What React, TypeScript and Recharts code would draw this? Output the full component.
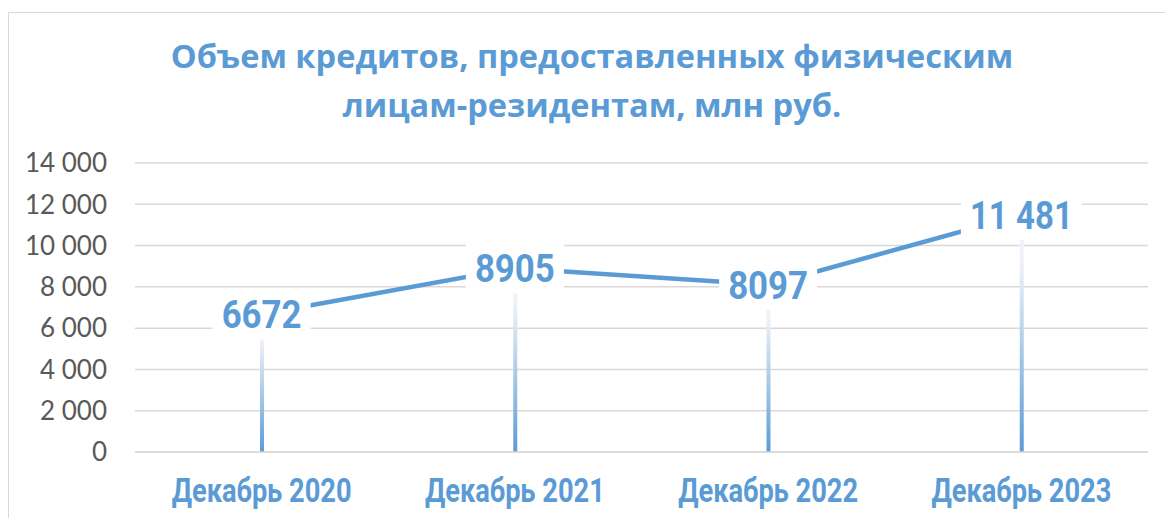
import React from 'react';
import { ComposedChart, Line, Bar, XAxis, YAxis, CartesianGrid, LabelList } from 'recharts';

const categories = ['Декабрь 2020', 'Декабрь 2021', 'Декабрь 2022', 'Декабрь 2023'];
const values = [6672, 8905, 8097, 11481];
const valueLabels = ['6672', '8905', '8097', '11 481'];
const yTicks = [0, 2000, 4000, 6000, 8000, 10000, 12000, 14000];

const BLUE = '#5B9BD5';
const GRID = '#d9d9d9';
const COND = "'Roboto', sans-serif";

const chartData = categories.map((name, i) => ({
  name,
  value: values[i],
  label: valueLabels[i],
}));

const fmtTick = (v: number) => String(v).replace(/\B(?=(\d{3})+(?!\d))/g, ' ');

// the original uses a condensed face; squeeze Roboto to the same width
const ValueLabel = (props: any) => {
  const { x, y, value } = props;
  const text = String(value);
  const digits = text.replace(/\s/g, '').length;
  const spaces = text.length - digits;
  const tw = digits * 20 + spaces * 3;
  const w = tw + 18;
  const h = 50;
  return (
    <g>
      <rect x={x - w / 2} y={y - h / 2} width={w} height={h} fill="#ffffff" />
      <text
        x={x - tw / 2}
        y={y + 14}
        textLength={tw}
        lengthAdjust="spacingAndGlyphs"
        fill={BLUE}
        fontFamily={COND}
        fontWeight="bold"
        fontSize={38}
      >
        {text}
      </text>
    </g>
  );
};

const CategoryTick = (props: any) => {
  const { x, y, payload } = props;
  const tw = 180;
  return (
    <text
      x={x - tw / 2}
      y={y + 50}
      textLength={tw}
      lengthAdjust="spacingAndGlyphs"
      fill={BLUE}
      fontFamily={COND}
      fontWeight="bold"
      fontSize={33}
    >
      {payload.value}
    </text>
  );
};

const App: React.FC = () => {
  return (
    <div style={{ position: 'absolute', left: 0, top: 0, width: 1165, height: 518, overflow: 'hidden', background: '#fff' }}>
      <div style={{ position: 'absolute', left: 8, top: 12, width: 1200, height: 600, border: '1.5px solid #d9d9d9' }} />
      <div
        style={{
          position: 'absolute',
          left: 0,
          top: 31,
          width: 1184,
          textAlign: 'center',
          color: BLUE,
          fontFamily: "'Open Sans', sans-serif",
          fontWeight: 'bold',
          fontSize: 32.6,
          lineHeight: '49px',
        }}
      >
        Объем кредитов, предоставленных физическим
        <br />
        лицам-резидентам, млн руб.
      </div>
      <ComposedChart
        width={1165}
        height={518}
        data={chartData}
        margin={{ top: 163, right: 17, left: 0, bottom: 0 }}
        style={{ position: 'absolute', left: 0, top: 0 }}
      >
        <defs>
          <linearGradient id="dropGrad" x1="0" y1="0" x2="0" y2="1">
            <stop offset="0%" stopColor="#f4f6fa" />
            <stop offset="20%" stopColor="#eef2f8" />
            <stop offset="100%" stopColor={BLUE} />
          </linearGradient>
        </defs>
        <CartesianGrid vertical={false} stroke={GRID} strokeWidth={1.5} />
        <XAxis
          dataKey="name"
          height={66}
          axisLine={{ stroke: GRID, strokeWidth: 1.5 }}
          tickLine={false}
          tickSize={0}
          tickMargin={0}
          tick={<CategoryTick />}
        />
        <YAxis
          width={135}
          domain={[0, 14000]}
          ticks={yTicks}
          axisLine={false}
          tickLine={false}
          tickSize={0}
          tickMargin={28}
          tickFormatter={fmtTick}
          tick={{ fill: '#595959', fontFamily: "'Lato', sans-serif", fontSize: 26 }}
        />
        <Bar dataKey="value" barSize={4} fill="url(#dropGrad)" isAnimationActive={false} />
        <Line
          dataKey="value"
          stroke={BLUE}
          strokeWidth={4.5}
          dot={false}
          activeDot={false}
          isAnimationActive={false}
        >
          <LabelList dataKey="label" content={<ValueLabel />} />
        </Line>
      </ComposedChart>
    </div>
  );
};

export default App;
